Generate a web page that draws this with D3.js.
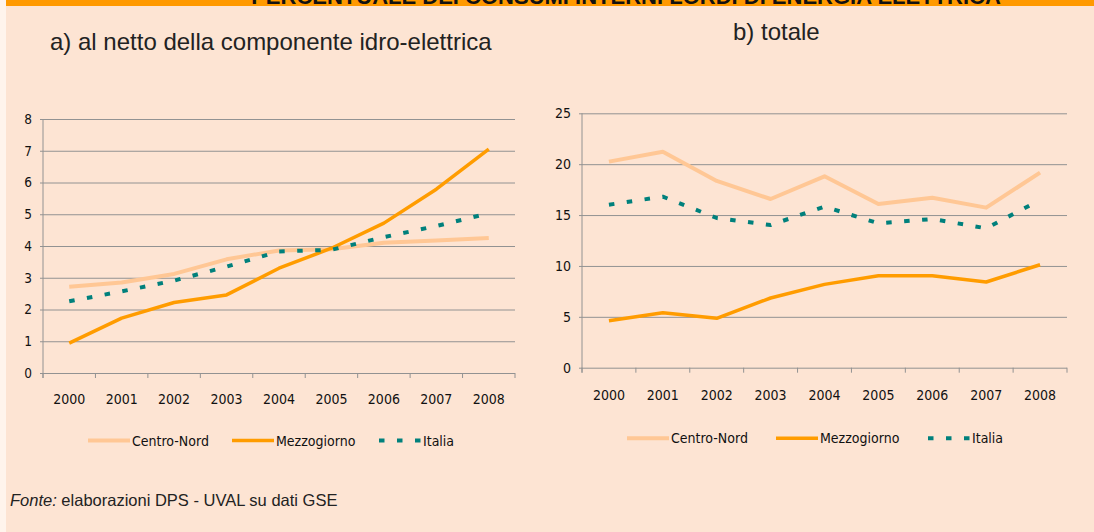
<!DOCTYPE html>
<html>
<head>
<meta charset="utf-8">
<script src="https://cdn.jsdelivr.net/npm/d3@7"></script>
<style>
  body { margin: 0; background: #fde4d3; }
  svg { display: block; }
  .tick text { font-family: "Liberation Sans Narrow", "DejaVu Sans Condensed", sans-serif; fill: #111; }
</style>
</head>
<body>
<div id="chart"></div>
<script>
// dati
var years = ["2000", "2001", "2002", "2003", "2004", "2005", "2006", "2007", "2008"];
var seriesNames = ["Centro-Nord", "Mezzogiorno", "Italia"];

// a) al netto della componente idro-elettrica
var netCentroNord = [2.72, 2.85, 3.12, 3.58, 3.86, 3.9, 4.1, 4.17, 4.25];
var netMezzogiorno = [0.94, 1.73, 2.22, 2.46, 3.3, 3.93, 4.72, 5.79, 7.05];
var netItalia = [2.26, 2.57, 2.91, 3.35, 3.83, 3.88, 4.28, 4.63, 5.03];
var netTicks = [0, 1, 2, 3, 4, 5, 6, 7, 8];

// b) totale
var totCentroNord = [20.25, 21.23, 18.35, 16.58, 18.81, 16.09, 16.71, 15.73, 19.17];
var totMezzogiorno = [4.62, 5.41, 4.85, 6.85, 8.19, 9.04, 9.04, 8.42, 10.12];
var totItalia = [16.02, 16.81, 14.71, 14.02, 15.83, 14.19, 14.61, 13.7, 16.48];
var totTicks = [0, 5, 10, 15, 20, 25];

var W = 1094, H = 532;

var styles = {
  "Centro-Nord": { color: "#ffc795", width: 4, dash: null },
  "Mezzogiorno": { color: "#ff9c00", width: 3.5, dash: null },
  "Italia": { color: "#00807c", width: 4, dash: "5.5,12.5" }
};

var svg = d3.select("#chart").append("svg").attr("width", W).attr("height", H);

svg.append("rect").attr("width", W).attr("height", H).attr("fill", "#fde4d3");
svg.append("rect").attr("width", 6).attr("height", H).attr("fill", "#fff4ec");

// barra arancione in alto con il titolo tagliato (come nell'originale)
svg.append("rect").attr("x", 6).attr("width", W - 6).attr("height", 6).attr("fill", "#ff9900");
svg.append("text")
  .attr("x", 626).attr("y", 3.5)
  .attr("text-anchor", "middle")
  .style("font-family", "Liberation Sans, Arial, sans-serif")
  .style("font-weight", "bold")
  .style("font-size", "22px")
  .attr("fill", "#111")
  .text("PERCENTUALE DEI CONSUMI INTERNI LORDI DI ENERGIA ELETTRICA");

// sottotitoli
svg.append("text")
  .attr("x", 50).attr("y", 50)
  .style("font-family", "Liberation Sans, Arial, sans-serif")
  .style("font-size", "24px")
  .attr("fill", "#222")
  .text("a) al netto della componente idro-elettrica");

svg.append("text")
  .attr("x", 733).attr("y", 40)
  .style("font-family", "Liberation Sans, Arial, sans-serif")
  .style("font-size", "24px")
  .attr("fill", "#222")
  .text("b) totale");

function drawPanel(p) {
  var x = d3.scaleBand().domain(years).range([p.x0, p.x1]).padding(0);
  var y = d3.scaleLinear().domain([0, p.max]).range([p.y1, p.y0]);
  var g = svg.append("g");

  // griglia + etichette asse y
  var yAxis = d3.axisLeft(y).tickValues(p.ticks).tickSize(-(p.x1 - p.x0 + 3)).tickPadding(p.pad);
  var ya = g.append("g").attr("transform", "translate(" + (p.x0 - 3) + ",0)").call(yAxis);
  ya.select(".domain").remove();
  ya.selectAll(".tick line").attr("stroke", "#929292").attr("stroke-width", 1);
  ya.selectAll(".tick text").style("font-size", p.yfont + "px").attr("x", -(p.pad - 3));

  // asse verticale
  g.append("line")
    .attr("x1", p.x0).attr("x2", p.x0)
    .attr("y1", p.y0).attr("y2", p.y1 + 5)
    .attr("stroke", "#929292");

  // tacche sull'asse x ai confini delle categorie
  var edges = years.map(function (d) { return x(d); }).concat([p.x1]);
  g.selectAll(".xtick").data(edges).enter().append("line")
    .attr("class", "xtick")
    .attr("x1", function (d) { return d; }).attr("x2", function (d) { return d; })
    .attr("y1", p.y1).attr("y2", p.y1 + 5)
    .attr("stroke", "#929292");

  g.selectAll(".xlab").data(years).enter().append("text")
    .attr("class", "xlab")
    .attr("x", function (d) { return x(d) + x.bandwidth() / 2; })
    .attr("y", p.y1 + p.labOff)
    .attr("text-anchor", "middle")
    .style("font-family", "Liberation Sans Narrow, DejaVu Sans Condensed, sans-serif")
    .style("font-size", "14px")
    .attr("fill", "#111")
    .text(function (d) { return d; });

  var line = d3.line()
    .x(function (d, i) { return x(years[i]) + x.bandwidth() / 2; })
    .y(function (d) { return y(d); });

  seriesNames.forEach(function (name, k) {
    var st = styles[name];
    g.append("path")
      .attr("d", line(p.values[k]))
      .attr("fill", "none")
      .attr("stroke", st.color)
      .attr("stroke-width", st.width)
      .attr("stroke-linejoin", "round")
      .attr("stroke-dasharray", st.dash);
  });

  // legenda
  var leg = g.append("g");
  seriesNames.forEach(function (name, k) {
    var st = styles[name];
    var lx = p.legX[k];
    leg.append("line")
      .attr("x1", lx).attr("x2", lx + 42)
      .attr("y1", p.legY).attr("y2", p.legY)
      .attr("stroke", st.color)
      .attr("stroke-width", st.width)
      .attr("stroke-dasharray", st.dash);
    leg.append("text")
      .attr("x", lx + 44).attr("y", p.legY + 5)
      .style("font-family", "Liberation Sans Narrow, DejaVu Sans Condensed, sans-serif")
      .style("font-size", "14px")
      .attr("fill", "#111")
      .text(name);
  });
}

drawPanel({
  x0: 43, x1: 515, y0: 119, y1: 373, max: 8, ticks: netTicks,
  values: [netCentroNord, netMezzogiorno, netItalia],
  pad: 11, yfont: 13.5, labOff: 31,
  legX: [88, 232, 379], legY: 440.5
});

drawPanel({
  x0: 582, x1: 1067, y0: 113.3, y1: 367.7, max: 25, ticks: totTicks,
  values: [totCentroNord, totMezzogiorno, totItalia],
  pad: 11, yfont: 14, labOff: 32,
  legX: [627, 776, 928], legY: 438.3
});

// fonte
var fonte = svg.append("text")
  .attr("x", 10).attr("y", 506)
  .style("font-family", "Liberation Sans, Arial, sans-serif")
  .style("font-size", "16.5px")
  .attr("fill", "#222");
fonte.append("tspan").style("font-style", "italic").text("Fonte:");
fonte.append("tspan").text(" elaborazioni DPS - UVAL su dati GSE");
</script>
</body>
</html>
